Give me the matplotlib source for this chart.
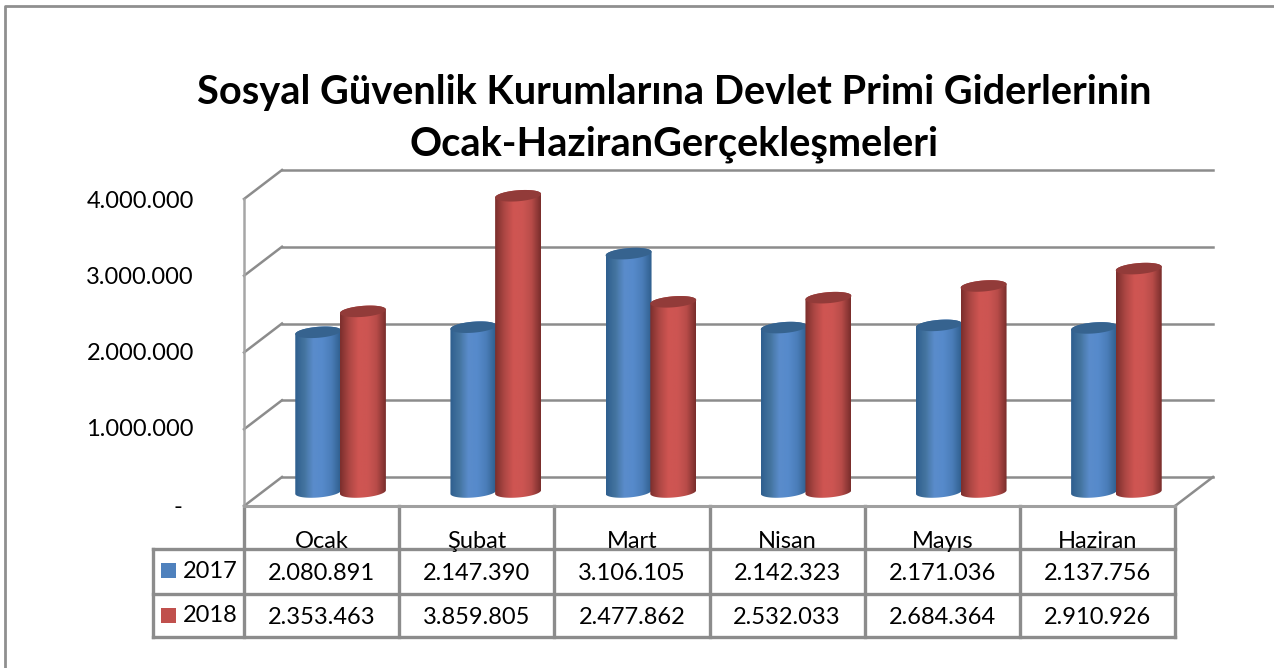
import numpy as np
import matplotlib
matplotlib.use("Agg")
import matplotlib.pyplot as plt
from matplotlib.path import Path
from matplotlib.patches import PathPatch, Rectangle
from matplotlib.colors import LinearSegmentedColormap
from matplotlib.transforms import offset_copy

months = ["Ocak", "Şubat", "Mart", "Nisan", "Mayıs", "Haziran"]
series_names = ["2017", "2018"]
v2017 = [2080891, 2147390, 3106105, 2142323, 2171036, 2137756]
v2018 = [2353463, 3859805, 2477862, 2532033, 2684364, 2910926]
y_ticks = [0, 1000000, 2000000, 3000000, 4000000]
title = "Sosyal Güvenlik Kurumlarına Devlet Primi Giderlerinin\nOcak-HaziranGerçekleşmeleri"

W, H = 1274, 668
plt.rcParams["font.family"] = ["Lato", "DejaVu Sans"]
fig = plt.figure(figsize=(W / 100, H / 100), dpi=100, facecolor="white")

def fmt(n):
    return f"{n:,}".replace(",", ".")

GRAY = "#8c8c8c"
BLUE = "#4f81bd"
RED = "#c0504d"

# page overlay, pixel coordinates
pg = fig.add_axes([0, 0, 1, 1], zorder=3)
pg.set_xlim(0, W); pg.set_ylim(H, 0); pg.axis("off"); pg.patch.set_alpha(0)

# frame
pg.plot([4.5, 4.5, W], [H, 5.5, 5.5], color="#8f8f8f", lw=2.0, solid_capstyle="butt")

# plot axes: x = category slots, y = value (mid-depth plane of the cylinders)
L, R, Y0, Y4 = 263, 1194, 492, 185
BACK, FRONT = 15, -14
ax = fig.add_axes([L / W, 1 - Y0 / H, (R - L) / W, (Y0 - Y4) / H], zorder=2)
ax.set_xlim(0, 6); ax.set_ylim(0, 4000000); ax.axis("off")

back = offset_copy(ax.transData, fig=fig, x=19, y=BACK, units="dots")
front = offset_copy(ax.transData, fig=fig, x=-19, y=FRONT, units="dots")
dx = 6 / (R - L)
dy = 4000000 / (Y0 - Y4)
for t in y_ticks:
    ax.plot([0, 6], [t, t], transform=back, color=GRAY, lw=1.8, zorder=1, clip_on=False)
    ax.plot([-19 * dx, 19 * dx], [t + FRONT * dy, t + BACK * dy], color=GRAY, lw=1.8, zorder=1, clip_on=False)
ax.plot([0, 0], [0, 4000000], transform=front, color="#a6a6a6", lw=1.8, zorder=1, clip_on=False)
ax.plot([6 - 19 * dx, 6 + 19 * dx], [FRONT * dy, BACK * dy], color=GRAY, lw=1.8, zorder=1, clip_on=False)

shade = {
    BLUE: LinearSegmentedColormap.from_list("b", ["#2f5f8f", "#44749f", "#5a8ccb", "#568acb", "#4a7db8", "#2f5f8e"]),
    RED: LinearSegmentedColormap.from_list("r", ["#7c2f2d", "#ad4744", "#cf5552", "#cd5552", "#b84c49", "#7a2e2c"]),
}
lid = {BLUE: "#36638f", RED: "#923b39"}

def cylinder(xc, val, color, z):
    hw = 0.148
    a = 5.5 * dy
    tilt = 1.8 * dy
    th = np.linspace(0, 2 * np.pi, 101)
    ex = xc + hw * np.cos(th)
    off_top = a * np.sin(th) + tilt * np.cos(th)
    # body outline: lower half of the base, upper half of the lid
    low = th[50:]
    up = th[:51]
    bx = np.r_[xc + hw * np.cos(low), xc + hw * np.cos(up)]
    by = np.r_[a * np.sin(low) + tilt * np.cos(low), val + a * np.sin(up) + tilt * np.cos(up)]
    clip = PathPatch(Path(np.c_[bx, by]), transform=ax.transData, fc="none", ec="none")
    ax.add_patch(clip)
    grad = np.linspace(0, 1, 64)[None, :]
    im = ax.imshow(grad, extent=[xc - hw, xc + hw, -2 * a, val + 2 * a], aspect="auto",
                   cmap=shade[color], zorder=z, interpolation="bilinear")
    im.set_clip_box(fig.bbox)
    im.set_clip_path(clip)
    ax.fill(ex, val + off_top, color=lid[color], lw=0, zorder=z + 0.1, clip_on=False)

xs = np.arange(6) + 0.5
ww = 0.144
for i in range(6):
    cylinder(xs[i] - ww, v2017[i], BLUE, 2 + i)
    cylinder(xs[i] + ww, v2018[i], RED, 2.5 + i)
ax.set_xlim(0, 6); ax.set_ylim(0, 4000000)
ax.set_aspect("auto")

# y labels, on the front plane
tick_y = [511, 430, 354, 278, 202]
for t, py in zip(y_ticks, tick_y):
    if t == 0:
        pg.text(178, py - 3, "-", ha="center", va="center", fontsize=17, color="black")
    else:
        pg.text(194, py, fmt(t), ha="right", va="center", fontsize=17, color="black")

# data table
edges = np.linspace(244, 1175, 7)
T0, T1, T2, T3, TL = 506, 549, 594, 637, 153
lw_t = 2.4
for xe in edges:
    pg.plot([xe, xe], [T0, T3], color=GRAY, lw=lw_t, solid_capstyle="projecting")
pg.plot([TL, TL], [T1, T3], color=GRAY, lw=lw_t, solid_capstyle="projecting")
pg.plot([244, 1175], [T0, T0], color="#a0a0a0", lw=2.2)
for yy in (T1, T2, T3):
    pg.plot([TL, 1175], [yy, yy], color=GRAY, lw=lw_t, solid_capstyle="projecting")

centers = (edges[:-1] + edges[1:]) / 2
for c, m in zip(centers, months):
    pg.text(c, 548, m, ha="center", va="baseline", fontsize=17, color="black",
            clip_on=True, clip_path=Rectangle((0, 0), W, 549, transform=pg.transData))
for row, (vals, name, col, yc) in enumerate(zip([v2017, v2018], series_names, [BLUE, RED], [572, 617])):
    for c, v in zip(centers, vals):
        pg.text(c, yc + 1, fmt(v), ha="center", va="center", fontsize=17, color="black")
    pg.add_patch(Rectangle((161, yc - 9.5), 15, 15, fc=col, ec="none"))
    pg.text(183, yc - 1, name, ha="left", va="center", fontsize=17, color="black")

pg.text(674, 118.5, title, ha="center", va="center", fontsize=28.6, fontweight="bold",
        color="black", linespacing=1.47)

fig.savefig("out.png", dpi=100, facecolor="white")
